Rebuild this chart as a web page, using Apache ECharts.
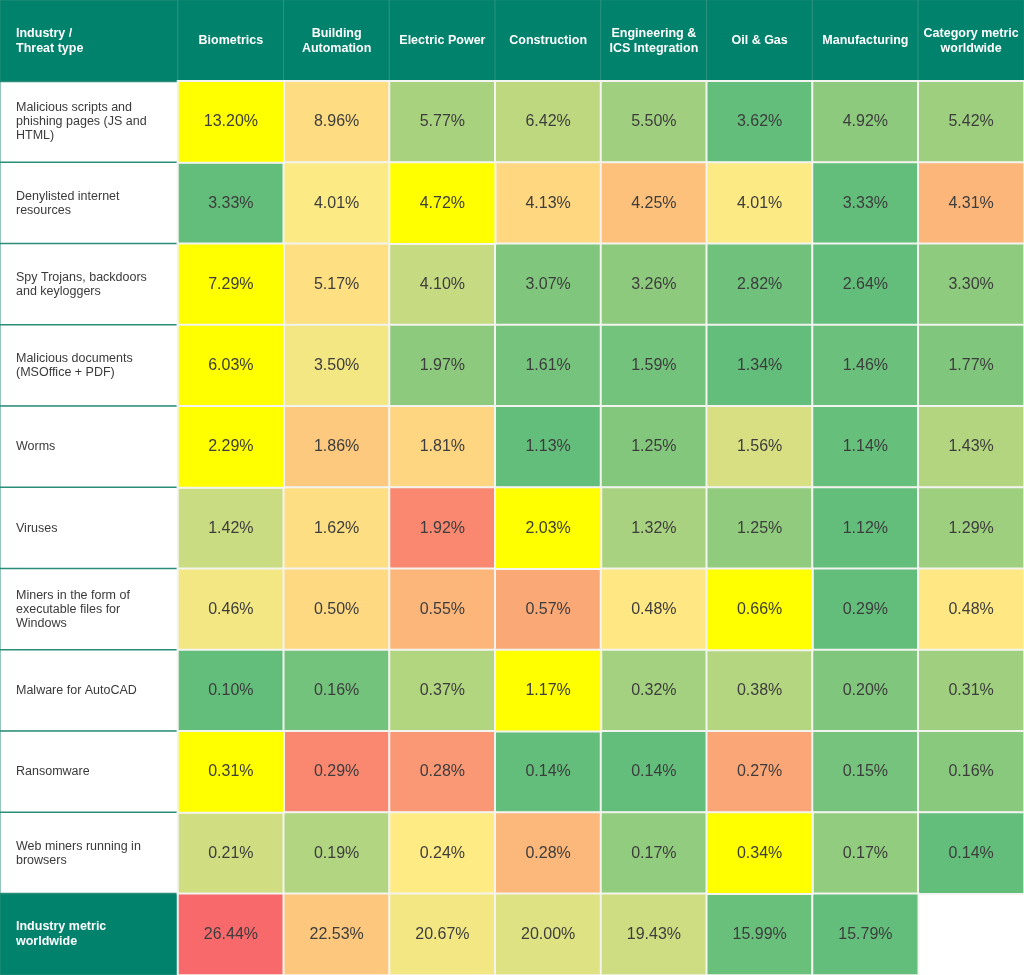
<!DOCTYPE html>
<html>
<head>
<meta charset="utf-8">
<script src="https://cdn.jsdelivr.net/npm/echarts@6/dist/echarts.min.js"></script>
<style>
  html, body { margin: 0; padding: 0; background: #ffffff; }
  #main { width: 1024px; height: 975px; }
</style>
</head>
<body>
<div id="main"></div>
<script>
// table data
var cornerLabel = 'Industry /\nThreat type';
var totalLabel = 'Industry metric\nworldwide';
var industries = ['Biometrics', 'Building\nAutomation', 'Electric Power', 'Construction',
  'Engineering &\nICS Integration', 'Oil & Gas', 'Manufacturing', 'Category metric\nworldwide'];
var threats = [
  'Malicious scripts and\nphishing pages (JS and\nHTML)',
  'Denylisted internet\nresources',
  'Spy Trojans, backdoors\nand keyloggers',
  'Malicious documents\n(MSOffice + PDF)',
  'Worms',
  'Viruses',
  'Miners in the form of\nexecutable files for\nWindows',
  'Malware for AutoCAD',
  'Ransomware',
  'Web miners running in\nbrowsers'
];
var threatValues = [
  [13.20, 8.96, 5.77, 6.42, 5.50, 3.62, 4.92, 5.42],
  [3.33, 4.01, 4.72, 4.13, 4.25, 4.01, 3.33, 4.31],
  [7.29, 5.17, 4.10, 3.07, 3.26, 2.82, 2.64, 3.30],
  [6.03, 3.50, 1.97, 1.61, 1.59, 1.34, 1.46, 1.77],
  [2.29, 1.86, 1.81, 1.13, 1.25, 1.56, 1.14, 1.43],
  [1.42, 1.62, 1.92, 2.03, 1.32, 1.25, 1.12, 1.29],
  [0.46, 0.50, 0.55, 0.57, 0.48, 0.66, 0.29, 0.48],
  [0.10, 0.16, 0.37, 1.17, 0.32, 0.38, 0.20, 0.31],
  [0.31, 0.29, 0.28, 0.14, 0.14, 0.27, 0.15, 0.16],
  [0.21, 0.19, 0.24, 0.28, 0.17, 0.34, 0.17, 0.14]
];
var industryMetric = [26.44, 22.53, 20.67, 20.00, 19.43, 15.99, 15.79];

var TEAL = '#00826c';
var FONT = '"Liberation Sans", Arial, sans-serif';
var scaleColors = ['#63BE7B', '#FFEB84', '#F8696B']; // green - yellow - red
var cellBorder = { borderColor: '#f3f4ef', borderWidth: 2 };

var rowKeys = ['header'].concat(threats, [totalLabel]);

var myChart = echarts.init(document.getElementById('main'));

var series = [];
var visualMaps = [];

// left column: threat names
series.push({
  type: 'heatmap', xAxisIndex: 0, yAxisIndex: 0,
  data: threats.map(function (t, i) { return [0, i + 1, 1]; }),
  itemStyle: { color: '#ffffff', borderColor: '#2a8d78', borderWidth: 1.5 },
  label: {
    show: true, position: 'insideLeft', distance: 17,
    color: '#3a3a3a', fontSize: 12.5, lineHeight: 14, fontFamily: FONT,
    formatter: function (p) { return threats[p.value[1] - 1]; }
  },
  emphasis: { disabled: true }
});
// left column: corner + total cells
series.push({
  type: 'heatmap', xAxisIndex: 0, yAxisIndex: 0,
  data: [[0, 0, 1], [0, rowKeys.length - 1, 1]],
  itemStyle: { color: TEAL, borderColor: '#2a8d78', borderWidth: 1.5 },
  label: {
    show: true, position: 'insideLeft', distance: 17,
    color: '#ffffff', fontSize: 12.5, fontWeight: 'bold', lineHeight: 15, fontFamily: FONT,
    formatter: function (p) { return p.value[1] === 0 ? cornerLabel : totalLabel; }
  },
  emphasis: { disabled: true }
});
// header row: industries
series.push({
  type: 'heatmap', xAxisIndex: 1, yAxisIndex: 1,
  data: industries.map(function (n, j) { return [j, 0, 1]; }),
  itemStyle: { color: TEAL, borderColor: '#2f917d', borderWidth: 1 },
  label: {
    show: true, color: '#ffffff', fontSize: 12.5, fontWeight: 'bold', lineHeight: 15, fontFamily: FONT,
    formatter: function (p) { return industries[p.value[0]]; }
  },
  emphasis: { disabled: true }
});

var valueLabel = {
  show: true, color: '#3d3d3d', fontSize: 16, fontFamily: FONT,
  formatter: function (p) { return p.value[2].toFixed(2) + '%'; }
};

// one series per row, each with its own colour scale (row min..max)
var allRows = threatValues.concat([industryMetric]);
var highlighted = [];
allRows.forEach(function (vals, k) {
  var mn = Math.min.apply(null, vals);
  var mx = Math.max.apply(null, vals);
  var isThreat = k < threatValues.length;
  var data = [];
  vals.forEach(function (v, j) {
    var item = { value: [j, k + 1, v], itemStyle: cellBorder };
    if (isThreat && v === mx) highlighted.push(item);
    else data.push(item);
  });
  visualMaps.push({
    type: 'continuous', show: false, seriesIndex: series.length, dimension: 2,
    min: mn, max: mx, inRange: { color: scaleColors }
  });
  series.push({
    type: 'heatmap', xAxisIndex: 1, yAxisIndex: 1, data: data,
    itemStyle: cellBorder,
    label: valueLabel,
    emphasis: { disabled: true }
  });
});
// row maximum among threats is highlighted in yellow
series.push({
  type: 'heatmap', xAxisIndex: 1, yAxisIndex: 1, data: highlighted,
  itemStyle: { color: '#ffff00', borderColor: '#f3f4ef', borderWidth: 2 },
  label: valueLabel,
  emphasis: { disabled: true }
});

var option = {
  backgroundColor: '#ffffff',
  animation: false,
  tooltip: { show: false },
  grid: [
    { left: 0, width: 178, top: 0, bottom: 0 },
    { left: 178, right: 0, top: 0, bottom: 0 }
  ],
  xAxis: [
    { type: 'category', gridIndex: 0, data: ['label'], show: false },
    { type: 'category', gridIndex: 1, data: industries, show: false }
  ],
  yAxis: [
    { type: 'category', gridIndex: 0, data: rowKeys, inverse: true, show: false },
    { type: 'category', gridIndex: 1, data: rowKeys, inverse: true, show: false }
  ],
  visualMap: visualMaps,
  series: series
};
option && myChart.setOption(option);
</script>
</body>
</html>
